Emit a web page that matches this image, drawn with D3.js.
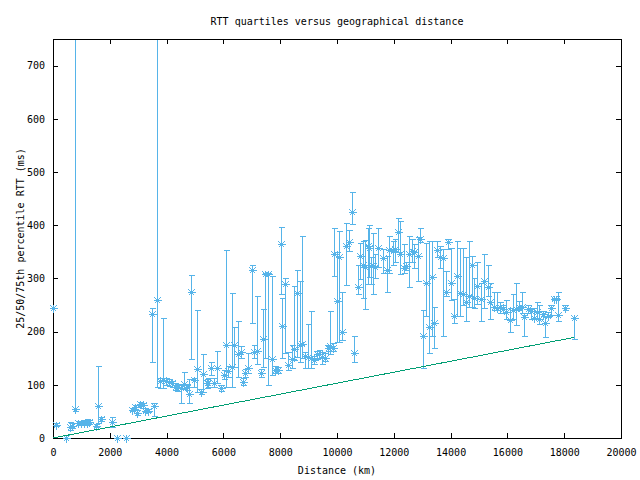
<!DOCTYPE html>
<html><head><meta charset="utf-8">
<script src="https://cdn.jsdelivr.net/npm/d3@7"></script>
<style>
body{margin:0;background:#fff}
text{font-family:"DejaVu Sans Mono","Liberation Mono",monospace;font-size:10px;fill:#000}
</style>
</head><body>
<svg id="c" width="640" height="480"></svg>
<script>
// Distance (km) of each measured pair
const distance=[0,106,459,600,670,776,882,988,1093,1199,1270,1517,1587,1693,2081,2257,2575,2786,2892,2963,3068,3174,3245,3351,3492,3562,3668,
3774,3880,3986,4091,4197,4303,4409,4515,4620,4726,4797,4867,4973,5079,5220,5291,5432,5467,5573,5678,5784,5925,6031,6102,6172,6313,6384,6525,6631,6701,6772,6878,7019,7089,7195,7336,7407,
7477,7583,7724,7830,7936,8042,8077,8183,8288,8430,8500,8606,8712,8782,8888,8994,9100,9205,9311,9382,9488,9593,9699,9770,9876,9911,10017,10087,10193,10334,10405,10511,10616,10722,10793,10898,10969,11075,
11110,11181,11251,11322,11428,11604,11745,11815,11956,12027,12133,12203,12345,12415,12521,12627,12697,12838,12909,13015,13120,13226,13332,13403,13508,13614,13720,13826,13896,14002,14108,14214,14320,14426,14531,14637,14743,14813,
14919,15060,15166,15307,15378,15519,15624,15730,15836,15942,16083,16189,16295,16400,16506,16577,16718,16824,16929,17035,17106,17247,17317,17423,17529,17635,17706,17776,18023,18340];
// 50th percentile RTT (ms)
const median=[245,25,0,21,22,55,28,28,28,28,30,23,60,36,30,0,0,53,58,47,64,62,51,51,234,60,260,
107,109,107,105,103,96,96,94,102,96,83,275,109,130,87,121,104,104,132,104,132,94,119,174,126,134,174,157,162,106,123,132,315,162,164,123,187,
308,308,149,128,128,364,211,289,138,149,168,272,174,177,155,153,151,147,157,158,153,151,170,172,170,345,257,340,200,360,368,425,160,283,343,326,321,360,
358,323,323,321,357,338,315,353,351,355,387,345,319,323,345,351,349,342,374,191,292,209,302,217,353,340,338,275,368,292,230,304,272,270,255,266,325,264,
285,262,296,283,255,247,245,247,242,236,221,240,242,247,247,228,243,238,226,236,223,234,217,230,245,262,262,232,245,225];
// 25th percentile RTT (ms)
const lower=[245,22,0,15,18,50,24,25,25,25,26,20,28,32,21,0,0,50,54,44,60,56,48,48,143,42,95,
94,94,100,98,96,90,88,66,92,90,66,149,96,87,82,87,94,95,119,96,104,88,110,96,115,96,134,115,150,100,115,123,217,150,140,115,134,
150,100,119,122,122,270,151,160,128,132,147,153,143,151,132,132,132,140,149,150,140,145,164,157,164,304,181,181,185,287,351,402,143,270,298,264,242,290,
302,290,270,300,321,310,275,310,325,330,349,308,310,315,283,330,320,296,368,132,230,160,191,170,340,320,192,266,355,260,217,230,230,250,219,247,247,245,
251,219,245,266,223,240,240,235,235,223,200,223,213,240,235,191,235,223,223,225,215,230,189,228,232,260,260,219,240,187];
// 75th percentile RTT (ms)
const upper=[245,28,0,30,28,2000,32,31,34,36,34,27,136,40,40,0,0,56,62,52,68,66,56,55,245,66,1500,
112,225,112,110,108,104,102,100,125,100,111,306,113,241,92,158,110,112,143,112,164,100,128,353,136,272,209,219,172,112,130,160,325,175,266,130,243,
310,310,304,135,134,396,264,300,162,174,285,315,296,379,162,215,238,155,164,166,162,160,175,238,178,394,349,389,275,404,391,462,192,325,366,370,372,395,
400,340,385,345,394,355,343,380,370,375,413,408,365,330,379,375,365,377,394,240,366,370,370,247,370,360,355,313,375,357,262,370,357,357,340,370,342,300,
330,292,345,326,292,275,275,255,250,260,245,270,292,257,275,232,250,245,245,255,250,238,228,236,250,264,264,275,250,225];
// Lower bound line (speed of light in fibre)
const boundDistance=[0,18340];
const boundRTT=[0,189];
const xTicks=[0,2000,4000,6000,8000,10000,12000,14000,16000,18000,20000];
const yTicks=[0,100,200,300,400,500,600,700];
const titleText="RTT quartiles versus geographical distance";
const xLabel="Distance (km)";
const yLabel="25/50/75th percentile RTT (ms)";

const svg=d3.select("#c");
svg.append("rect").attr("width",640).attr("height",480).attr("fill","#fff");
const L=53,R=621,T=39,B=438;
const x=d3.scaleLinear().domain([0,20000]).range([L,R]);
const y=d3.scaleLinear().domain([0,750]).range([B,T]);
const BLUE="#56b4e9",GREEN="#009e73";

// axes with inward ticks
svg.append("g").attr("transform",`translate(0,${B})`)
  .call(d3.axisBottom(x).tickValues(xTicks).tickSize(-5).tickPadding(11).tickFormat(d3.format("d")));
svg.append("g").attr("transform",`translate(0,${T})`)
  .call(d3.axisTop(x).tickValues(xTicks.slice(1,-1)).tickSize(-5).tickFormat(""));
svg.append("g").attr("transform",`translate(${L},0)`)
  .call(d3.axisLeft(y).tickValues(yTicks).tickSize(-5).tickPadding(8).tickFormat(d3.format("d")));
svg.append("g").attr("transform",`translate(${R},0)`)
  .call(d3.axisRight(y).tickValues(yTicks.slice(1)).tickSize(-5).tickFormat(""));
svg.selectAll(".domain").remove();
svg.selectAll(".tick line").attr("stroke","#000").attr("shape-rendering","crispEdges");
svg.selectAll(".tick text").attr("font-family",null).attr("font-size",null).attr("fill","#000");

svg.append("rect").attr("x",L+0.5).attr("y",T+0.5).attr("width",R-L).attr("height",B-T)
  .attr("fill","none").attr("stroke","#000").attr("shape-rendering","crispEdges");

// titles
svg.append("text").attr("x",(L+R)/2).attr("y",25).attr("text-anchor","middle").text(titleText);
svg.append("text").attr("x",(L+R)/2).attr("y",474).attr("text-anchor","middle").text(xLabel);
svg.append("text").attr("transform",`translate(24,${(T+B)/2}) rotate(-90)`).attr("text-anchor","middle").text(yLabel);

// error bars
const data=distance.map((d,i)=>({d,m:median[i],lo:lower[i],hi:upper[i]}));
const g=svg.append("g").attr("stroke",BLUE).attr("stroke-width",1).attr("shape-rendering","crispEdges");
const ymax=y.domain()[1];
data.forEach(p=>{
  const px=Math.round(x(p.d))+0.5;
  if(p.hi>p.lo){
    const yt=y(Math.min(p.hi,ymax)), yb=y(p.lo);
    g.append("line").attr("x1",px).attr("x2",px).attr("y1",Math.round(yt)+0.5).attr("y2",Math.round(yb)+0.5);
    g.append("line").attr("x1",px-3).attr("x2",px+3).attr("y1",Math.round(yb)+0.5).attr("y2",Math.round(yb)+0.5);
    if(p.hi<=ymax) g.append("line").attr("x1",px-3).attr("x2",px+3).attr("y1",Math.round(yt)+0.5).attr("y2",Math.round(yt)+0.5);
  }
});
// asterisk markers
const sg=svg.append("g").attr("stroke",BLUE).attr("stroke-width",1).attr("shape-rendering","crispEdges");
data.forEach(p=>{
  const px=Math.round(x(p.d))+0.5, py=Math.round(y(p.m))+0.5;
  sg.append("path").attr("fill","none").attr("d",`M${px-4},${py}H${px+4}M${px},${py-4}V${py+4}M${px-3},${py-3}L${px+3},${py+3}M${px-3},${py+3}L${px+3},${py-3}`);
});
// lower bound line
const line=d3.line().x((d,i)=>x(boundDistance[i])).y((d,i)=>y(boundRTT[i]));
svg.append("path").datum(boundDistance).attr("d",line).attr("fill","none").attr("stroke",GREEN).attr("stroke-width",1).attr("shape-rendering","crispEdges");
</script>
</body></html>
